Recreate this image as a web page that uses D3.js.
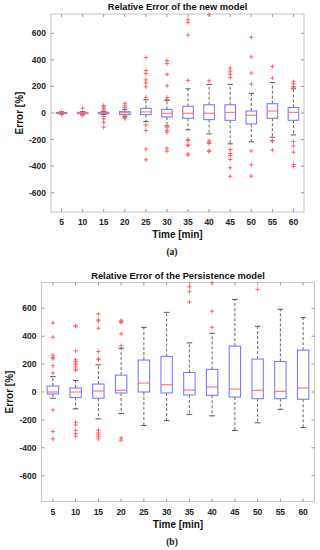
<!DOCTYPE html>
<html>
<head>
<meta charset="utf-8">
<script src="https://cdn.jsdelivr.net/npm/d3@7"></script>
<style>
  body { margin: 0; background: #fff; }
  svg { display: block; }
  text { font-family: "Liberation Sans", Arial, sans-serif; }
</style>
</head>
<body>
<svg id="chart" width="320" height="550"></svg>
<script>
// time steps (x categories)
var times = [5, 10, 15, 20, 25, 30, 35, 40, 45, 50, 55, 60];
var yTicks = [-600, -400, -200, 0, 200, 400, 600];

// (a) new model
var newQ1  = [-4, -5, -5, -12, -12, -30, -40, -50, -55, -82, -40, -55];
var newMed = [0, 0, 0, 2, 8, -2, -2, -2, 5, -17, 15, 5];
var newQ3  = [4, 5, 5, 10, 35, 27, 50, 62, 62, 15, 70, 42];
var newLo  = [-8, -10, -12, -25, -65, -97, -127, -157, -232, -217, -182, -165];
var newHi  = [8, 10, 12, 27, 100, 95, 182, 215, 215, 147, 230, 182];
var newOut = [
  [-12, 10],
  [35, -12, -18],
  [57, 47, 35, 22, -27, -45, -70, -107],
  [72, 55, 40, -35, -42],
  [417, 320, 297, 250, 227, 197, 117, -90, -132, -272, -352],
  [395, 372, 290, 205, 117, 102, -107, -132, -145, -265, -287],
  [702, 680, 587, 245, -200, -207, -240, -245, -310, -315],
  [740, 242, -210, -220, -230, -285, -290],
  [337, 315, 292, 267, -275, -305, -320, -350, -412, -477],
  [570, 422, 300, 217, -285, -390, -475],
  [350, 262, -207, -212, -280],
  [235, 220, 200, 190, -215, -247, -295, -387, -402]
];

// (b) persistence model
var perQ1  = [-14, -40, -45, -7, 0, -7, -21, -24, -36, -48, -48, -52];
var perMed = [0, 0, 7, 12, 64, 52, 14, 36, 21, 12, 5, 29];
var perQ3  = [43, 29, 57, 121, 229, 255, 140, 162, 329, 236, 219, 300];
var perLo  = [-45, -121, -193, -155, -240, -205, -160, -171, -276, -221, -124, -255];
var perHi  = [110, 83, 195, 314, 464, 571, 352, 421, 664, 471, 593, 533];
var perOut = [
  [495, 393, 264, 248, 238, 188, 136, -129, -283, -336],
  [474, 472, 295, 231, 219, 207, 195, 179, 164, 155, -217, -236, -274, -298, -317],
  [560, 517, 510, 457, 290, 238, 231, -274, -293, -307, -321, -336],
  [514, 505, 498, 417, 331, -329, -345],
  [], [],
  [755, 719, 645],
  [783, 579, 464],
  [],
  [736],
  [], []
];

var svg = d3.select('#chart');

function drawPanel(opt) {
  var g = svg.append('g');
  var x = d3.scalePoint().domain(times).range([opt.x0, opt.x1]).padding(0.5);
  var y = d3.scaleLinear().domain([-opt.ymax, opt.ymax]).range([opt.y1, opt.y0]);
  var step = x.step();
  var bw = step * 0.5, cw = step * 0.25;

  // frame
  g.append('rect')
    .attr('x', opt.x0).attr('y', opt.y0)
    .attr('width', opt.x1 - opt.x0).attr('height', opt.y1 - opt.y0)
    .attr('fill', 'none').attr('stroke', '#c4c4c4').attr('stroke-width', 1);

  // inner ticks on all four sides
  var tk = 3;
  yTicks.forEach(function(t) {
    g.append('line').attr('x1', opt.x0).attr('x2', opt.x0 + tk).attr('y1', y(t)).attr('y2', y(t)).attr('stroke', '#999');
    g.append('line').attr('x1', opt.x1).attr('x2', opt.x1 - tk).attr('y1', y(t)).attr('y2', y(t)).attr('stroke', '#999');
  });
  times.forEach(function(t) {
    g.append('line').attr('x1', x(t)).attr('x2', x(t)).attr('y1', opt.y1).attr('y2', opt.y1 - tk).attr('stroke', '#999');
    g.append('line').attr('x1', x(t)).attr('x2', x(t)).attr('y1', opt.y0).attr('y2', opt.y0 + tk).attr('stroke', '#999');
  });

  // tick labels
  g.selectAll('.yl').data(yTicks).enter().append('text')
    .attr('x', opt.x0 - 5).attr('y', function(d) { return y(d) + 3; })
    .attr('text-anchor', 'end').attr('font-size', 8.5).attr('font-weight', 'bold').attr('fill', '#222')
    .text(function(d) { return d; });
  g.selectAll('.xl').data(times).enter().append('text')
    .attr('x', function(d) { return x(d); }).attr('y', opt.y1 + 13)
    .attr('text-anchor', 'middle').attr('font-size', 8.5).attr('font-weight', 'bold').attr('fill', '#222')
    .text(function(d) { return d; });

  // titles
  var cx = (opt.x0 + opt.x1) / 2;
  g.append('text').attr('x', cx).attr('y', opt.y0 - 4)
    .attr('text-anchor', 'middle').attr('font-size', 9.3).attr('font-weight', 'bold').attr('fill', '#111')
    .text(opt.title);
  g.append('text').attr('x', cx).attr('y', opt.y1 + 26)
    .attr('text-anchor', 'middle').attr('font-size', 10).attr('font-weight', 'bold').attr('fill', '#111')
    .text('Time [min]');
  g.append('text')
    .attr('transform', 'translate(' + opt.ylx + ',' + y(0) + ') rotate(-90)')
    .attr('text-anchor', 'middle').attr('font-size', 10).attr('font-weight', 'bold').attr('fill', '#111')
    .text('Error [%]');
  g.append('text').attr('x', 172).attr('y', opt.capY)
    .attr('text-anchor', 'middle').attr('font-size', 9.5).attr('font-weight', 'bold')
    .style('font-family', '"Liberation Serif", serif').attr('fill', '#111')
    .text(opt.cap);

  // boxes
  times.forEach(function(t, i) {
    var c = x(t);
    var dash = '3,2';
    g.append('line').attr('x1', c).attr('x2', c).attr('y1', y(opt.q3[i])).attr('y2', y(opt.hi[i]))
      .attr('stroke', '#666').attr('stroke-dasharray', dash);
    g.append('line').attr('x1', c).attr('x2', c).attr('y1', y(opt.q1[i])).attr('y2', y(opt.lo[i]))
      .attr('stroke', '#666').attr('stroke-dasharray', dash);
    [opt.hi[i], opt.lo[i]].forEach(function(v) {
      g.append('line').attr('x1', c - cw / 2).attr('x2', c + cw / 2).attr('y1', y(v)).attr('y2', y(v))
        .attr('stroke', '#555');
    });
    g.append('rect')
      .attr('x', c - bw / 2).attr('y', y(opt.q3[i]))
      .attr('width', bw).attr('height', Math.max(1, y(opt.q1[i]) - y(opt.q3[i])))
      .attr('fill', 'none').attr('stroke', '#7b7bff').attr('stroke-width', 1.1);
    g.append('line').attr('x1', c - bw / 2).attr('x2', c + bw / 2)
      .attr('y1', y(opt.med[i])).attr('y2', y(opt.med[i]))
      .attr('stroke', '#ff7070').attr('stroke-width', 1.1);
    opt.out[i].forEach(function(v) {
      var py = y(v), s = 2.2;
      g.append('path')
        .attr('d', 'M' + (c - s) + ',' + py + 'H' + (c + s) + 'M' + c + ',' + (py - s) + 'V' + (py + s))
        .attr('stroke', '#ff5a5a').attr('stroke-width', 0.9);
    });
  });
}

drawPanel({
  x0: 51, x1: 304, y0: 14, y1: 212, ymax: 745, ylx: 23,
  title: 'Relative Error of the new model', cap: '(a)', capY: 255,
  q1: newQ1, med: newMed, q3: newQ3, lo: newLo, hi: newHi, out: newOut
});
drawPanel({
  x0: 41.5, x1: 314.5, y0: 282.5, y1: 501.5, ymax: 785, ylx: 13,
  title: 'Relative Error of the Persistence model', cap: '(b)', capY: 545,
  q1: perQ1, med: perMed, q3: perQ3, lo: perLo, hi: perHi, out: perOut
});
</script>
</body>
</html>
